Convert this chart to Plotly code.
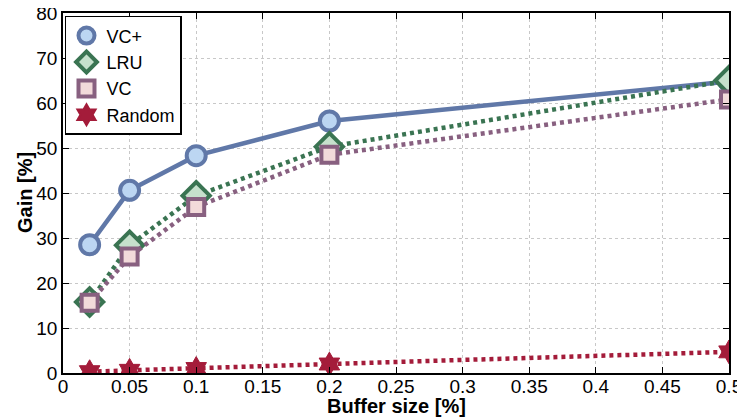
import plotly.graph_objects as go

buffer_size = [0.02, 0.05, 0.1, 0.2, 0.5]
vc_plus = [28.5, 40.6, 48.3, 56.0, 64.8]
lru = [15.8, 28.4, 39.4, 50.3, 65.0]
vc = [15.6, 25.9, 36.9, 48.5, 60.8]
random_gain = [0.3, 0.6, 1.0, 2.0, 4.7]

x_tickvals = [0, 0.05, 0.1, 0.15, 0.2, 0.25, 0.3, 0.35, 0.4, 0.45, 0.5]
x_ticktext = ["0", "0.05", "0.1", "0.15", "0.2", "0.25", "0.3", "0.35", "0.4", "0.45", "0.5"]
y_tickvals = [0, 10, 20, 30, 40, 50, 60, 70, 80]

FONT = "Liberation Sans, Arial, Helvetica, sans-serif"

series = [
    dict(name="VC+", y=vc_plus, color="#6078a8", fill="#bcd6f2", symbol="circle", size=19, dash="solid"),
    dict(name="LRU", y=lru, color="#3a7452", fill="#c6e0cc", symbol="diamond", size=21, dash="4px,4px"),
    dict(name="VC", y=vc, color="#886080", fill="#f2dada", symbol="square", size=16, dash="4px,4px"),
]

fig = go.Figure()

for s in series:
    fig.add_trace(go.Scatter(
        x=buffer_size, y=s["y"], name=s["name"], mode="lines+markers", showlegend=False,
        line=dict(color=s["color"], width=4.5, dash=s["dash"]),
        marker=dict(symbol=s["symbol"], size=s["size"], color=s["fill"],
                    line=dict(color=s["color"], width=4))))

fig.add_trace(go.Scatter(
    x=buffer_size, y=random_gain, name="Random", mode="lines+markers", showlegend=False,
    line=dict(color="#a41c3a", width=4.5, dash="4px,4px"),
    marker=dict(symbol="hexagram", size=18, color="#a41c3a",
                line=dict(color="#a41c3a", width=1))))
fig.add_trace(go.Scatter(
    x=buffer_size, y=random_gain, name="Random", mode="markers", showlegend=False,
    hoverinfo="skip",
    marker=dict(symbol="circle", size=14, color="#a41c3a",
                line=dict(color="#a41c3a", width=0))))

# legend entries (marker only, like the reference legend)
for s in series:
    fig.add_trace(go.Scatter(
        x=[None], y=[None], name=s["name"], mode="markers",
        marker=dict(symbol=s["symbol"], size=s["size"], color=s["fill"],
                    line=dict(color=s["color"], width=4))))
fig.add_trace(go.Scatter(
    x=[None], y=[None], name="Random", mode="markers",
    marker=dict(symbol="hexagram", size=17, color="#a41c3a",
                line=dict(color="#a41c3a", width=2))))

axis_font = dict(family=FONT, size=19, color="black")
# page body adds an 8px offset, margins compensate for it
fig.update_layout(
    width=737, height=411,
    margin=dict(l=55, r=16, t=5, b=46),
    paper_bgcolor="white", plot_bgcolor="white",
    font=dict(family=FONT, size=19, color="black"),
    showlegend=True,
    legend=dict(x=0.003, y=0.992, xanchor="left", yanchor="top",
                bordercolor="black", borderwidth=1.5, bgcolor="white",
                font=dict(family=FONT, size=18), itemwidth=30, tracegroupgap=0),
    xaxis=dict(range=[0, 0.5], tickvals=x_tickvals, ticktext=x_ticktext,
               showline=True, linecolor="black", linewidth=1.5, mirror="ticks",
               ticks="inside", ticklen=6, tickcolor="black",
               showgrid=True, gridcolor="#c8c8c8", griddash="dot", gridwidth=1,
               zeroline=False, tickfont=axis_font, automargin=False,
               ticklabeloverflow="allow", ticklabelstandoff=-5),
    yaxis=dict(range=[0, 80], tickvals=y_tickvals,
               showline=True, linecolor="black", linewidth=1.5, mirror="ticks",
               ticks="inside", ticklen=6, tickcolor="black",
               showgrid=True, gridcolor="#c8c8c8", griddash="dot", gridwidth=1,
               zeroline=False, tickfont=axis_font, automargin=False,
               ticklabeloverflow="allow"),
    annotations=[
        dict(text="<b>Buffer size [%]</b>", xref="paper", yref="paper",
             x=0.5, y=-0.092, xanchor="center", yanchor="middle", showarrow=False,
             font=dict(family=FONT, size=20, color="black")),
        dict(text="<b>Gain [%]</b>", xref="paper", yref="paper",
             x=-0.057, y=0.5, xanchor="center", yanchor="middle", showarrow=False,
             textangle=-90, font=dict(family=FONT, size=20, color="black")),
    ],
)

fig.write_html("out.html")
